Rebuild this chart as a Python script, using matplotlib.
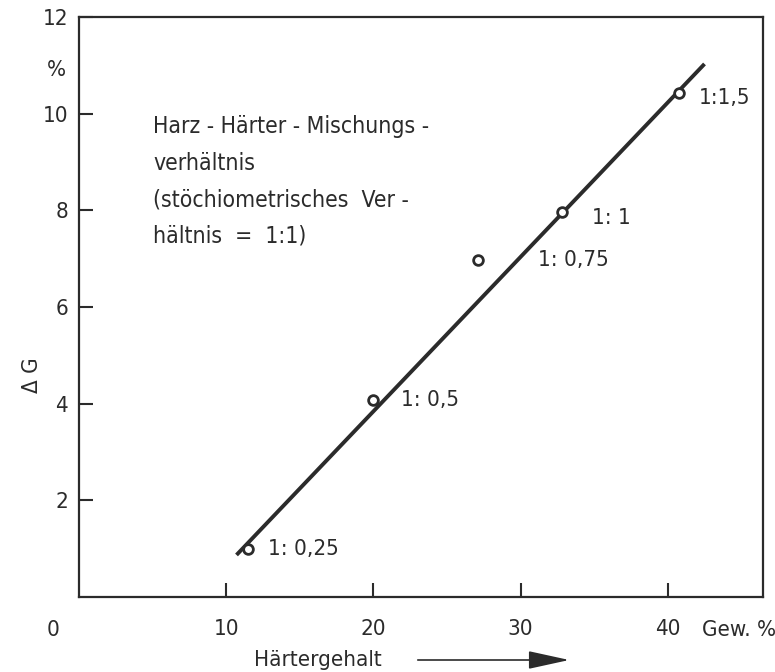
import numpy as np
import matplotlib.pyplot as plt

plt.rcParams['font.family'] = ['DejaVu Sans']
plt.rcParams['font.stretch'] = 'condensed'
plt.rcParams['font.size'] = 16

ink = '#2b2b2b'

# measured points (Härtergehalt in Gew.%, Delta G in %)
haerter = [11.5, 20.0, 27.1, 32.8, 40.8]
delta_g = [1.0, 4.07, 6.97, 7.96, 10.43]
ratios = ['1: 0,25', '1: 0,5', '1: 0,75', '1: 1', '1:1,5']

# regression line end points
line_x = [10.7, 42.5]
line_y = [0.87, 11.03]

xticks = [10, 20, 30, 40]
yticks = [2, 4, 6, 8, 10, 12]

# label offsets in points
label_offsets = [(14, 0), (20, 0), (43, 0), (22, -4), (14, -4)]

fig = plt.figure(figsize=(7.75, 6.72), dpi=100)
ax = fig.add_axes([0.102, 0.1116, 0.883, 0.863])

ax.plot(line_x, line_y, c=ink, lw=2.8, solid_capstyle='butt', zorder=2)
ax.plot(haerter, delta_g, ls='none', marker='o', ms=7, mew=2,
        mfc='white', mec=ink, zorder=3)

for x, y, txt, off in zip(haerter, delta_g, ratios, label_offsets):
    ax.annotate(txt, (x, y), xytext=off, textcoords='offset points',
                ha='left', va='center', color=ink)

ax.text(0.108, 0.831, 'Harz - Härter - Mischungs -\nverhältnis\n'
        '(stöchiometrisches  Ver -\nhältnis  =  1:1)',
        transform=ax.transAxes, ha='left', va='top', color=ink,
        linespacing=1.75, fontsize=16.5)

ax.set(xlim=(0, 46.5), ylim=(0, 12))
ax.set_xticks(xticks)
ax.set_yticks(yticks)
ax.tick_params(direction='in', length=10, width=1.5, colors=ink,
               labelcolor=ink, labelsize=16)
ax.tick_params(axis='x', pad=16)
ax.tick_params(axis='y', pad=8)
for s in ax.spines.values():
    s.set_linewidth(1.6)
    s.set_color(ink)

# origin, units and axis labels
fig.text(53 / 775, 1 - 630 / 672, '0', ha='center', va='center', color=ink)
fig.text(739 / 775, 1 - 630 / 672, 'Gew. %', ha='center', va='center', color=ink)
fig.text(56 / 775, 1 - 70 / 672, '%', ha='center', va='center', color=ink)
fig.text(32 / 775, 1 - 375 / 672, 'Δ G', ha='center', va='center',
         rotation=90, color=ink)
fig.text(318 / 775, 1 - 660 / 672, 'Härtergehalt', ha='center', va='center',
         color=ink)
ax.annotate('', xy=(572 / 775, 1 - 660 / 672), xytext=(415 / 775, 1 - 660 / 672),
            xycoords='figure fraction', textcoords='figure fraction',
            arrowprops=dict(arrowstyle='-|>,head_length=1.6,head_width=0.35',
                            color=ink, lw=1.2), annotation_clip=False)

fig.savefig('out.png', dpi=100)
